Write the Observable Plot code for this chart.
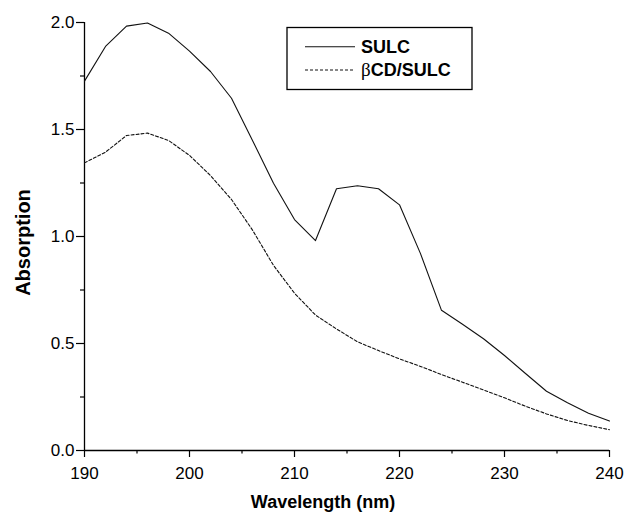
<!DOCTYPE html>
<html><head><meta charset="utf-8">
<script src="https://cdn.jsdelivr.net/npm/d3@7"></script>
<script src="https://cdn.jsdelivr.net/npm/@observablehq/plot@0.6"></script>
<style>
body{margin:0;background:#fff;}
#wrap{position:relative;width:630px;height:513px;font-family:"Liberation Sans",Arial,sans-serif;}
#legend{position:absolute;left:0;top:0;}
</style></head><body><div id="wrap"></div>
<script>
const wavelength = [190,192,194,196,198,200,202,204,206,208,210,212,214,216,218,220,222,224,226,228,230,232,234,236,238,240];
const sulc = [1.726,1.888,1.983,1.998,1.950,1.866,1.771,1.646,1.449,1.249,1.079,0.981,1.223,1.237,1.223,1.148,0.920,0.655,0.590,0.522,0.444,0.360,0.277,0.223,0.174,0.138];
const bcdSulc = [1.344,1.394,1.472,1.483,1.449,1.379,1.285,1.173,1.030,0.865,0.735,0.633,0.568,0.508,0.467,0.428,0.393,0.355,0.319,0.283,0.246,0.207,0.171,0.140,0.117,0.097];
const seriesNames = ["SULC","βCD/SULC"];
const seriesDash = ["none","3,2"];
const xTicks = [190,200,210,220,230,240];
const xMinor = [195,205,215,225,235];
const yTicks = [0,0.5,1.0,1.5,2.0];
const yMinor = [0.25,0.75,1.25,1.75];

const rows = [sulc, bcdSulc].map((vals, k) =>
  wavelength.map((w, i) => ({w, v: vals[i], s: seriesNames[k]})));

const chart = Plot.plot({
  width: 630, height: 513,
  marginLeft: 84, marginRight: 21, marginTop: 22, marginBottom: 63,
  style: {fontFamily: "Liberation Sans, Arial, sans-serif", fontSize: "17px", color: "#000", background: "#fff", overflow: "visible"},
  x: {domain: [190, 240]},
  y: {domain: [0, 2]},
  marks: [
    Plot.axisX({ticks: xMinor, tickFormat: () => "", tickSize: 3.5, label: null, strokeWidth: 1.2}),
    Plot.axisX({ticks: xTicks, tickFormat: d => String(d), tickSize: 7, tickPadding: 9, label: null, fontSize: 17, strokeWidth: 1.2}),
    Plot.axisY({ticks: yMinor, tickFormat: () => "", tickSize: 4, label: null, strokeWidth: 1.2}),
    Plot.axisY({ticks: yTicks, tickFormat: d3.format(".1f"), tickSize: 8, tickPadding: 2, label: null, fontSize: 17, strokeWidth: 1.2}),
    Plot.ruleY([0], {strokeWidth: 1.3}),
    Plot.ruleX([190], {y1: 0, y2: 2, strokeWidth: 1.3}),
    ...rows.map((r, k) => Plot.line(r, {x: "w", y: "v", stroke: "#111", strokeWidth: 1.1, strokeDasharray: seriesDash[k]})),
    Plot.text(["Wavelength (nm)"], {frameAnchor: "bottom", dx: -24, dy: 57, fontWeight: "bold", fontSize: 18}),
    Plot.text(["Absorption"], {frameAnchor: "left", textAnchor: "middle", rotate: -90, dx: -61, dy: 6, fontWeight: "bold", fontSize: 20})
  ]
});
const wrap = document.getElementById("wrap");
wrap.appendChild(chart);

// legend overlay
const lg = d3.select(wrap).append("svg").attr("id", "legend").attr("width", 630).attr("height", 513);
lg.append("rect").attr("x", 287).attr("y", 27.5).attr("width", 185).attr("height", 62)
  .attr("fill", "#fff").attr("stroke", "#000").attr("stroke-width", 1.3);
seriesNames.forEach((name, k) => {
  const y = 46.7 + k * 23.3;
  lg.append("line").attr("x1", 305).attr("x2", 355).attr("y1", y).attr("y2", y)
    .attr("stroke", "#111").attr("stroke-width", 1.1).attr("stroke-dasharray", seriesDash[k]);
  const t = lg.append("text").attr("x", 361).attr("y", y + 6.3)
    .attr("font-family", "Liberation Sans, Arial, sans-serif").attr("font-size", 18).attr("font-weight", "bold");
  if (name.startsWith("β")) {
    t.append("tspan").attr("font-weight", "normal").attr("font-family", "Liberation Serif, serif").attr("font-size", 19).text("β");
    t.append("tspan").text(name.slice(1));
  } else {
    t.text(name);
  }
});
</script></body></html>
